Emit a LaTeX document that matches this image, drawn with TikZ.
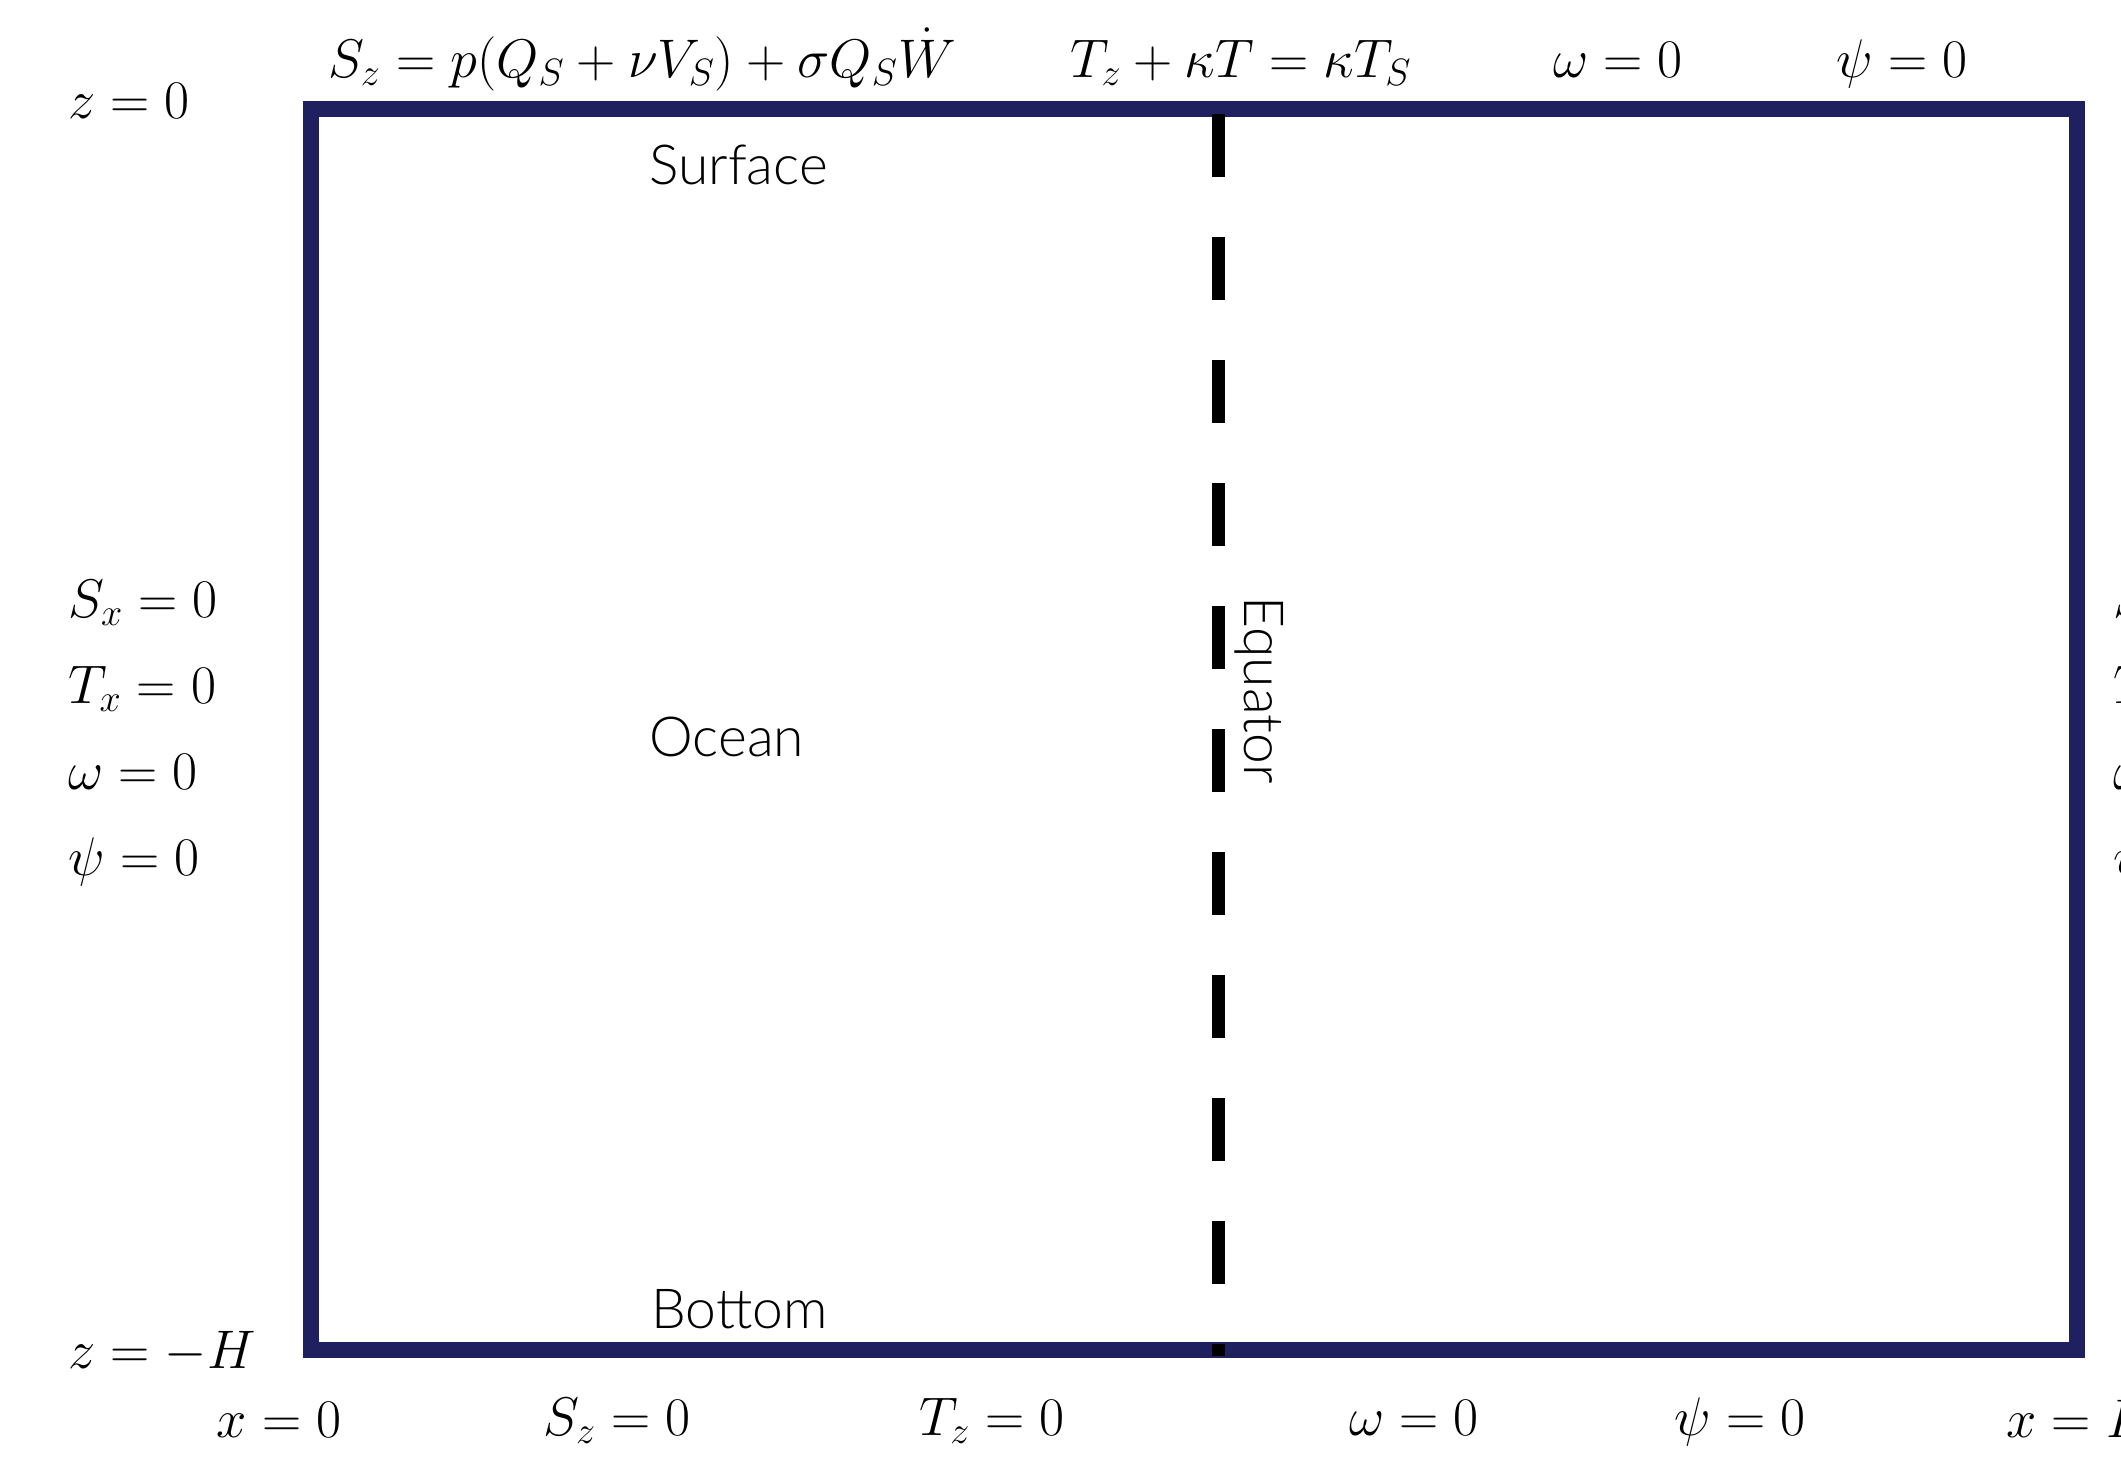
\RequirePackage{fix-cm}
\documentclass[tikz,border=0pt]{standalone}
\usepackage{fontspec}
\newfontfamily\lato{Lato Light}
\definecolor{boxnavy}{RGB}{31,32,96}
\tikzset{
  mlab/.style={inner sep=0pt, font=\fontsize{27.2}{33}\selectfont},
  slab/.style={inner sep=0pt, font=\lato\fontsize{27.6}{33}\selectfont},
  wall/.style={draw=boxnavy, line width=8pt, line join=miter},
  eqline/.style={draw=black, line width=6.5pt, dash pattern=on 31.5pt off 30pt}
}
\begin{document}
\begin{tikzpicture}[x=0.5pt,y=-0.5pt]
\useasboundingbox (0,0) rectangle (2121,1469);
\fill[white] (0,0) rectangle (2121,1469);
% ocean box
\draw[wall] (311,109) rectangle (2077,1350);
\coordinate (eqtop) at (1218,114);
\coordinate (eqbot) at (1218,1356);
\draw[eqline] (eqtop) -- (eqbot);
% inner labels
\node[slab, anchor=west] (surf) at (649,165) {Surface};
\node[slab, anchor=west] (ocean) at (649,737) {Ocean};
\node[slab, anchor=west] (bottom) at (651,1309) {Bottom};
\node[slab, rotate=-90] (equator) at (1259,690) {Equator};
% top boundary conditions
\node[mlab, anchor=base] (t1) at (642,77) {$S_z = p(Q_S+\nu V_S)+\sigma Q_S\dot{W}$};
\node[mlab, anchor=base] (t2) at (1241,77) {$T_z+\kappa T=\kappa T_S$};
\node[mlab, anchor=base] (t3) at (1618,77) {$\omega=0$};
\node[mlab, anchor=base] (t4) at (1902,77) {$\psi=0$};
% left
\node[mlab, anchor=base west] (z0) at (68,118) {$z=0$};
\node[mlab, anchor=base west] (l1) at (68,617) {$S_x=0$};
\node[mlab, anchor=base west] (l2) at (68,703) {$T_x=0$};
\node[mlab, anchor=base west] (l3) at (68,789) {$\omega=0$};
\node[mlab, anchor=base west] (l4) at (68,875) {$\psi=0$};
\node[mlab, anchor=base west] (zH) at (68,1368) {$z=-H$};
% right (cut off)
\node[mlab, anchor=base west] (r1) at (2113,617) {$S_x=0$};
\node[mlab, anchor=base west] (r2) at (2113,703) {$T_x=0$};
\node[mlab, anchor=base west] (r3) at (2113,789) {$\omega=0$};
\node[mlab, anchor=base west] (r4) at (2113,875) {$\psi=0$};
% bottom
\node[mlab, anchor=base] (x0) at (279,1437) {$x=0$};
\node[mlab, anchor=base] (b1) at (617,1435) {$S_z=0$};
\node[mlab, anchor=base] (b2) at (992,1435) {$T_z=0$};
\node[mlab, anchor=base] (b3) at (1414,1435) {$\omega=0$};
\node[mlab, anchor=base] (b4) at (1740,1435) {$\psi=0$};
\node[mlab, anchor=base west] (xL) at (2006,1437) {$x=L$};
\end{tikzpicture}
\end{document}
